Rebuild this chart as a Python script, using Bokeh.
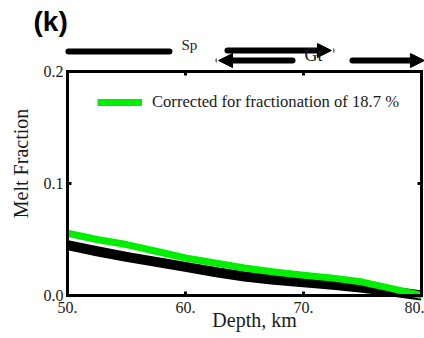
import math

from bokeh.embed import file_html
from bokeh.models import (Arrow, NormalHead, Label, Legend, LegendItem,
                          LinearAxis, FixedTicker, Range1d)
from bokeh.plotting import figure
from bokeh.resources import INLINE

# Melt fraction along the upwelling path (depth in km)
depth_km = [50, 52.5, 55, 57.5, 60, 62.5, 65, 67.5, 70, 72.5, 75, 77.5, 80]
melt_raw = [0.045, 0.0395, 0.0345, 0.030, 0.0255, 0.021, 0.017, 0.014,
            0.0118, 0.0095, 0.0068, 0.0035, 0.0]
melt_corrected = [0.0556, 0.050, 0.0455, 0.0395, 0.0335, 0.029, 0.0245,
                  0.021, 0.018, 0.0155, 0.012, 0.0062, 0.0]

x_ticks = [50, 60, 70, 80]
x_tick_labels = ["50.", "60.", "70.", "80."]
y_ticks = [0.0, 0.1, 0.2]
y_tick_labels = ["0.0", "0.1", "0.2"]

legend_label = "Corrected for fractionation of 18.7 %"

# Mineral stability bars above the panel (depth extents, km)
sp_field = (50.08, 58.64)
gt_upper = (63.56, 72.37)
gt_lower = (69.07, 62.80)
gt_deep = (74.15, 80.25)

SERIF = "Liberation Serif"
INK = "#1a1a1a"

# The canvas is the plotting area; the axes sit at fixed data positions so
# that the panel letter and the stability bars can be drawn around the box.
p = figure(width=424, height=338, output_backend="svg", toolbar_location=None,
           x_range=Range1d(44.322, 80.254), y_range=Range1d(-0.038393, 0.263393),
           x_axis_location=None, y_axis_location=None,
           min_border=0, min_border_left=0, min_border_right=0,
           min_border_top=0, min_border_bottom=0)
p.grid.visible = False
p.outline_line_color = None
p.background_fill_color = "white"
p.border_fill_color = "white"


def make_axis(labels, ticks, loc, bounds, show_labels, standoff):
    ax = LinearAxis(ticker=FixedTicker(ticks=ticks), fixed_location=loc,
                    bounds=bounds)
    ax.major_label_overrides = {t: (l if show_labels else "")
                                for t, l in zip(ticks, labels)}
    ax.axis_line_width = 3
    ax.axis_line_cap = "square"
    ax.axis_line_color = "black"
    ax.major_tick_line_width = 3
    ax.major_tick_line_color = "black"
    ax.major_tick_in = 4
    ax.major_tick_out = 0
    ax.minor_tick_line_color = None
    ax.major_label_text_font = SERIF
    ax.major_label_text_font_size = "16px" if show_labels else "0px"
    ax.major_label_text_color = INK
    ax.major_label_standoff = standoff
    return ax


p.add_layout(make_axis(x_tick_labels, x_ticks, 0.0, (50, 80), True, 7), "below")
p.add_layout(make_axis(y_tick_labels, y_ticks, 50, (0, 0.2), True, 4), "left")
p.add_layout(make_axis(x_tick_labels, x_ticks, 0.2, (50, 80), False, 0), "above")
p.add_layout(make_axis(y_tick_labels, y_ticks, 80, (0, 0.2), False, 0), "right")

p.line(depth_km, melt_raw, line_color="black", line_width=10,
       line_join="round")
green = p.line(depth_km, melt_corrected, line_color="#00ee00", line_width=7,
               line_join="round")

legend = Legend(items=[LegendItem(label=legend_label, renderers=[green])],
                location=(97, 226), glyph_width=45, glyph_height=20,
                label_height=20, label_standoff=10, padding=0, margin=0,
                border_line_alpha=0, background_fill_alpha=0,
                label_text_font=SERIF, label_text_font_size="16.6px",
                label_text_color=INK)
p.add_layout(legend)

# Spinel / garnet stability bars with arrows
bar_kw = dict(line_color="black", line_width=6, line_cap="round")


def head():
    return NormalHead(size=14, fill_color="black", line_color="black",
                      line_width=1)


p.add_layout(Arrow(x_start=sp_field[0], y_start=0.2179, x_end=sp_field[1],
                   y_end=0.2179, end=None, **bar_kw))
p.add_layout(Arrow(x_start=gt_upper[0], y_start=0.21875, x_end=gt_upper[1],
                   y_end=0.21875, end=head(), **bar_kw))
p.add_layout(Arrow(x_start=gt_lower[0], y_start=0.2098, x_end=gt_lower[1],
                   y_end=0.2098, end=head(), **bar_kw))
p.add_layout(Arrow(x_start=gt_deep[0], y_start=0.2098, x_end=gt_deep[1],
                   y_end=0.2098, end=head(), **bar_kw))

p.add_layout(Label(x=59.66, y=0.2161, text="Sp", text_font=SERIF,
                   text_font_size="15px", text_color=INK))
p.add_layout(Label(x=70.08, y=0.2054, text="Gt", text_font=SERIF,
                   text_font_size="18px", text_color=INK))

# Axis titles and panel letter
p.add_layout(Label(x=65.85, y=-0.0321, text="Depth, km", text_font=SERIF,
                   text_font_size="20px", text_align="center",
                   text_color=INK))
p.add_layout(Label(x=46.02, y=0.1179, text="Melt Fraction", text_font=SERIF,
                   text_font_size="20px", text_align="center",
                   text_baseline="middle", angle=math.pi / 2,
                   text_color=INK))
p.add_layout(Label(x=47.12, y=0.2312, text="(k)", text_font="Liberation Sans",
                   text_font_size="28px", text_font_style="bold",
                   text_color="black"))

open("out.html", "w").write(file_html(p, INLINE))
